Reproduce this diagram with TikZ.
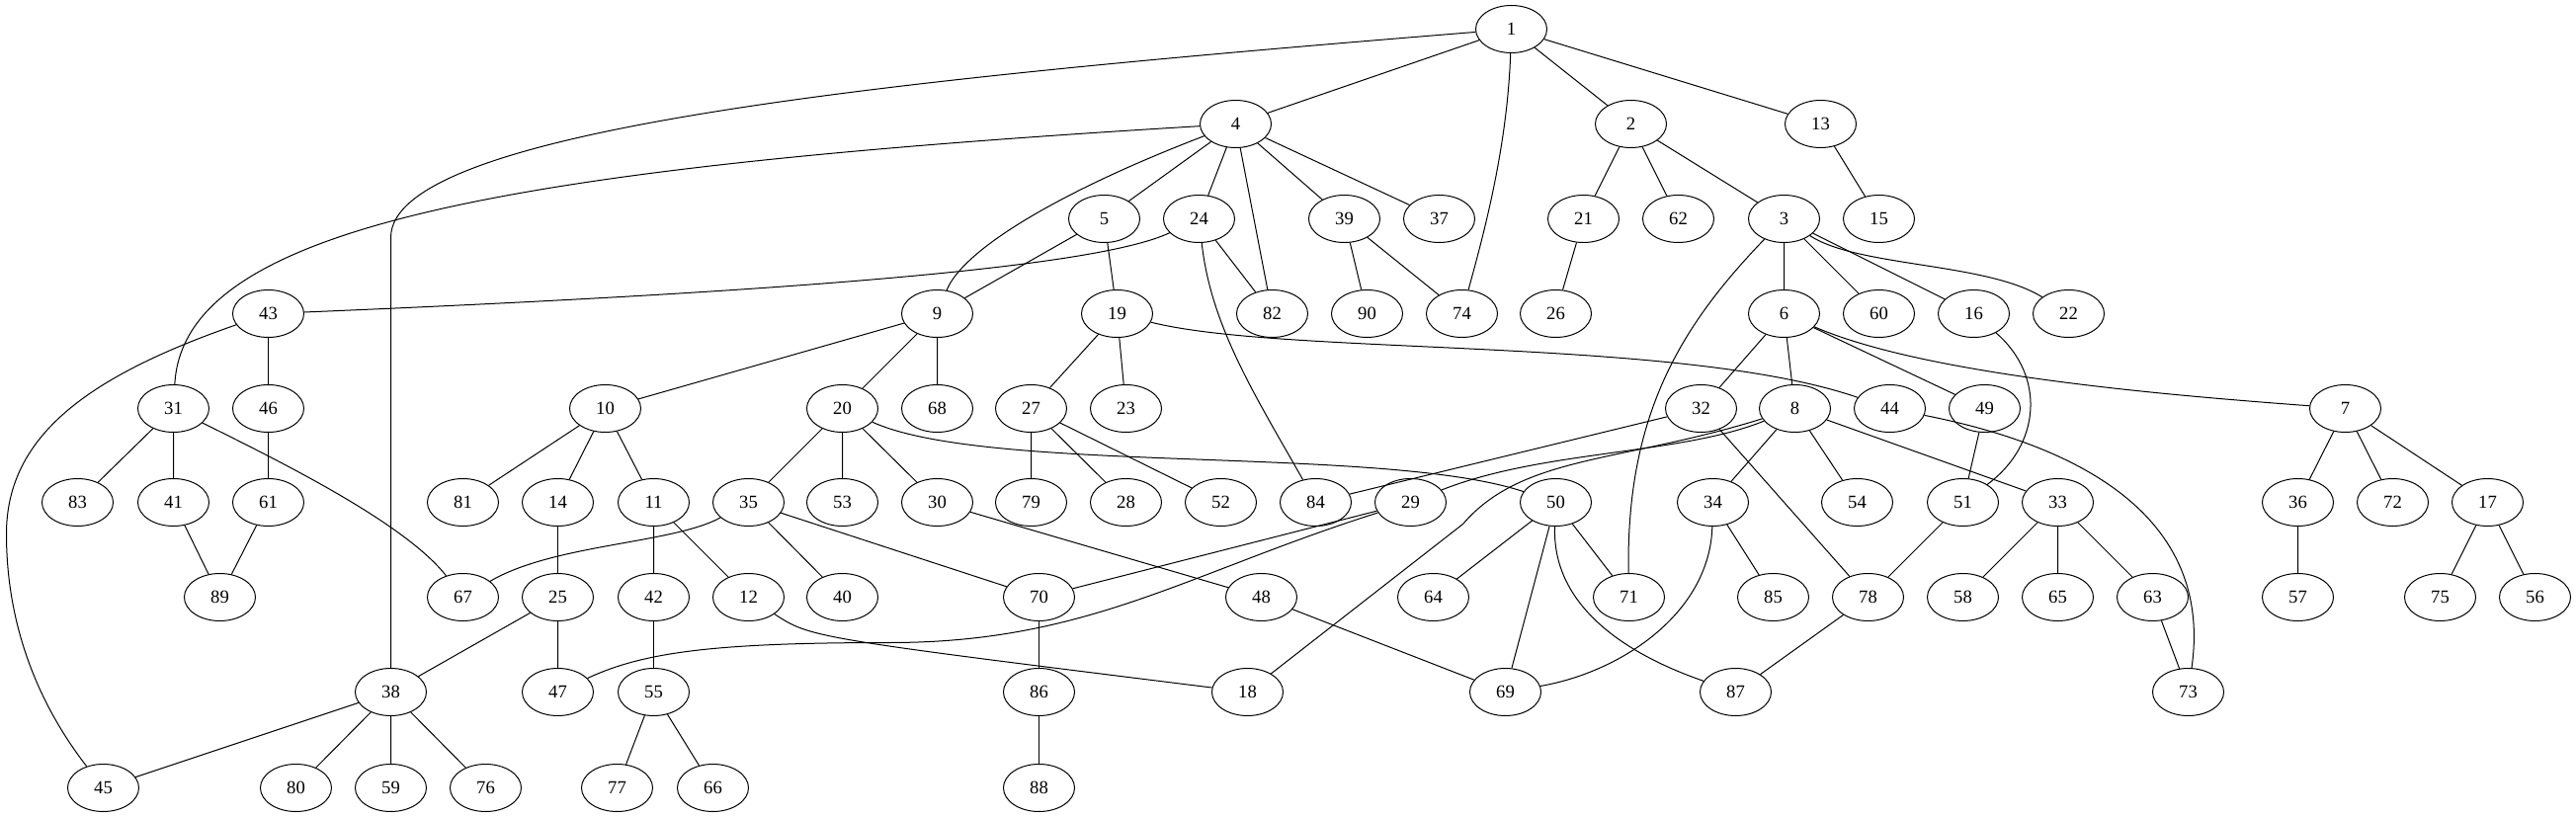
\documentclass[tikz,border=0pt]{standalone}
\usepackage{fontspec}
\setmainfont{Liberation Serif}
\usepackage{tikz}
\usetikzlibrary{calc,shapes}

\begin{document}
\begin{tikzpicture}[x=0.75pt,y=-0.75pt,line width=0.75pt,
	sommet/.style={draw,ellipse,minimum width=54pt,minimum height=36pt,inner sep=0pt,font=\fontsize{14}{14}\selectfont}]
						\useasboundingbox (0,0) rectangle (2607,827);
						\begin{scope}[shift={(0.5,0.5)}]
						% Sommets
						\node [sommet] (n1) at (1529,29) {1};
						\node [sommet] (n4) at (1250,125) {4};
						\node [sommet] (n2) at (1650,125) {2};
						\node [sommet] (n13) at (1842,125) {13};
						\node [sommet] (n5) at (1117,221) {5};
						\node [sommet] (n24) at (1213,221) {24};
						\node [sommet] (n39) at (1360,221) {39};
						\node [sommet] (n37) at (1456,221) {37};
						\node [sommet] (n21) at (1602,221) {21};
						\node [sommet] (n62) at (1698,221) {62};
						\node [sommet] (n3) at (1805,221) {3};
						\node [sommet] (n15) at (1901,221) {15};
						\node [sommet] (n43) at (271,317) {43};
						\node [sommet] (n9) at (948,317) {9};
						\node [sommet] (n19) at (1130,317) {19};
						\node [sommet] (n82) at (1287,317) {82};
						\node [sommet] (n90) at (1383,317) {90};
						\node [sommet] (n74) at (1479,317) {74};
						\node [sommet] (n26) at (1574,317) {26};
						\node [sommet] (n6) at (1805,317) {6};
						\node [sommet] (n60) at (1901,317) {60};
						\node [sommet] (n16) at (1997,317) {16};
						\node [sommet] (n22) at (2093,317) {22};
						\node [sommet] (n31) at (175,413) {31};
						\node [sommet] (n46) at (271,413) {46};
						\node [sommet] (n10) at (612,413) {10};
						\node [sommet] (n20) at (852,413) {20};
						\node [sommet] (n68) at (948,413) {68};
						\node [sommet] (n27) at (1043,413) {27};
						\node [sommet] (n23) at (1139,413) {23};
						\node [sommet] (n32) at (1721,413) {32};
						\node [sommet] (n8) at (1816,413) {8};
						\node [sommet] (n44) at (1912,413) {44};
						\node [sommet] (n49) at (2008,413) {49};
						\node [sommet] (n7) at (2373,413) {7};
						\node [sommet] (n83) at (78,508) {83};
						\node [sommet] (n41) at (175,508) {41};
						\node [sommet] (n61) at (271,508) {61};
						\node [sommet] (n81) at (468,508) {81};
						\node [sommet] (n14) at (564,508) {14};
						\node [sommet] (n11) at (661,508) {11};
						\node [sommet] (n35) at (757,508) {35};
						\node [sommet] (n53) at (852,508) {53};
						\node [sommet] (n30) at (948,508) {30};
						\node [sommet] (n79) at (1043,508) {79};
						\node [sommet] (n28) at (1139,508) {28};
						\node [sommet] (n52) at (1235,508) {52};
						\node [sommet] (n84) at (1331,508) {84};
						\node [sommet] (n29) at (1427,508) {29};
						\node [sommet] (n50) at (1574,508) {50};
						\node [sommet] (n34) at (1733,508) {34};
						\node [sommet] (n54) at (1879,508) {54};
						\node [sommet] (n51) at (1986,508) {51};
						\node [sommet] (n33) at (2082,508) {33};
						\node [sommet] (n36) at (2325,508) {36};
						\node [sommet] (n72) at (2421,508) {72};
						\node [sommet] (n17) at (2517,508) {17};
						\node [sommet] (n89) at (222,604) {89};
						\node [sommet] (n67) at (468,604) {67};
						\node [sommet] (n25) at (564,604) {25};
						\node [sommet] (n42) at (661,604) {42};
						\node [sommet] (n12) at (757,604) {12};
						\node [sommet] (n40) at (852,604) {40};
						\node [sommet] (n70) at (1051,604) {70};
						\node [sommet] (n48) at (1276,604) {48};
						\node [sommet] (n64) at (1450,604) {64};
						\node [sommet] (n71) at (1648,604) {71};
						\node [sommet] (n85) at (1794,604) {85};
						\node [sommet] (n78) at (1890,604) {78};
						\node [sommet] (n58) at (1986,604) {58};
						\node [sommet] (n65) at (2082,604) {65};
						\node [sommet] (n63) at (2178,604) {63};
						\node [sommet] (n57) at (2325,604) {57};
						\node [sommet] (n75) at (2469,604) {75};
						\node [sommet] (n56) at (2565,604) {56};
						\node [sommet] (n38) at (395,700) {38};
						\node [sommet] (n47) at (564,700) {47};
						\node [sommet] (n55) at (661,700) {55};
						\node [sommet] (n86) at (1051,700) {86};
						\node [sommet] (n18) at (1262,700) {18};
						\node [sommet] (n69) at (1523,700) {69};
						\node [sommet] (n87) at (1756,700) {87};
						\node [sommet] (n73) at (2214,700) {73};
						\node [sommet] (n45) at (104,797) {45};
						\node [sommet] (n80) at (299,797) {80};
						\node [sommet] (n59) at (395,797) {59};
						\node [sommet] (n76) at (491,797) {76};
						\node [sommet] (n77) at (624,797) {77};
						\node [sommet] (n66) at (721,797) {66};
						\node [sommet] (n88) at (1051,797) {88};
						% Arêtes
						\draw (n1) -- (n4) (n1) -- (n2) (n1) -- (n13);
						\draw (n1) .. controls (900,80) and (395,130) .. (395,240) -- (n38);
						\draw (n1) .. controls (1525,150) and (1500,240) .. (n74);
						\draw (n4) -- (n5) (n4) -- (n24) (n4) -- (n82) (n4) -- (n39) (n4) -- (n37);
						\draw (n4) .. controls (500,170) and (185,230) .. (n31);
						\draw (n4) .. controls (1080,190) and (975,250) .. (n9);
						\draw (n2) -- (n21) (n2) -- (n62) (n2) -- (n3);
						\draw (n13) -- (n15);
						\draw (n5) -- (n9) (n5) -- (n19);
						\draw (n24) -- (n82);
						\draw (n24) .. controls (1110,270) and (800,295) .. (n43);
						\draw (n24) .. controls (1225,330) and (1270,400) .. (n84);
						\draw (n39) -- (n90) (n39) -- (n74);
						\draw (n21) -- (n26);
						\draw (n3) -- (n6) (n3) -- (n60) (n3) -- (n16);
						\draw (n3) .. controls (1880,270) and (2010,265) .. (n22);
						\draw (n3) .. controls (1700,330) and (1645,420) .. (n71);
						\draw (n43) -- (n46);
						\draw (n43) .. controls (90,380) and (6,440) .. (6,540) .. controls (6,660) and (60,740) .. (n45);
						\draw (n9) -- (n10) (n9) -- (n20) (n9) -- (n68);
						\draw (n19) -- (n27) (n19) -- (n23);
						\draw (n19) .. controls (1300,360) and (1700,340) .. (n44);
						\draw (n6) -- (n32) (n6) -- (n8) (n6) -- (n49);
						\draw (n6) .. controls (1950,380) and (2200,400) .. (n7);
						\draw (n16) .. controls (2070,380) and (2065,450) .. (n51);
						\draw (n31) -- (n83) (n31) -- (n41);
						\draw (n31) .. controls (290,470) and (410,530) .. (n67);
						\draw (n46) -- (n61);
						\draw (n10) -- (n81) (n10) -- (n14) (n10) -- (n11);
						\draw (n20) -- (n35) (n20) -- (n53) (n20) -- (n30);
						\draw (n20) .. controls (1000,480) and (1400,450) .. (n50);
						\draw (n27) -- (n79) (n27) -- (n28) (n27) -- (n52);
						\draw (n32) -- (n84) (n32) -- (n78);
						\draw (n8) -- (n34) (n8) -- (n54) (n8) -- (n33);
						\draw (n8) .. controls (1700,460) and (1560,455) .. (n29);
						\draw (n8) .. controls (1640,468) and (1540,460) .. (1480,530) -- (n18);
						\draw (n44) .. controls (2100,450) and (2240,520) .. (n73);
						\draw (n49) -- (n51);
						\draw (n7) -- (n36) (n7) -- (n72) (n7) -- (n17);
						\draw (n41) -- (n89) (n61) -- (n89);
						\draw (n14) -- (n25);
						\draw (n11) -- (n42) (n11) -- (n12);
						\draw (n35) -- (n40) (n35) -- (n70);
						\draw (n35) .. controls (680,550) and (560,550) .. (n67);
						\draw (n30) -- (n48);
						\draw (n29) -- (n70);
						\draw (n29) .. controls (1200,580) and (1100,650) .. (900,650) .. controls (720,650) and (650,660) .. (n47);
						\draw (n50) -- (n64) (n50) -- (n71) (n50) -- (n69);
						\draw (n50) .. controls (1570,610) and (1640,660) .. (n87);
						\draw (n34) -- (n85);
						\draw (n34) .. controls (1730,620) and (1640,680) .. (n69);
						\draw (n51) -- (n78);
						\draw (n33) -- (n58) (n33) -- (n65) (n33) -- (n63);
						\draw (n36) -- (n57) (n17) -- (n75) (n17) -- (n56);
						\draw (n25) -- (n38) (n25) -- (n47);
						\draw (n42) -- (n55);
						\draw (n12) .. controls (820,645) .. (n18);
						\draw (n70) -- (n86) (n86) -- (n88);
						\draw (n48) -- (n69);
						\draw (n78) -- (n87) (n63) -- (n73);
						\draw (n38) -- (n45) (n38) -- (n80) (n38) -- (n59) (n38) -- (n76);
						\draw (n55) -- (n77) (n55) -- (n66);
						\end{scope}
\end{tikzpicture}
\end{document}
